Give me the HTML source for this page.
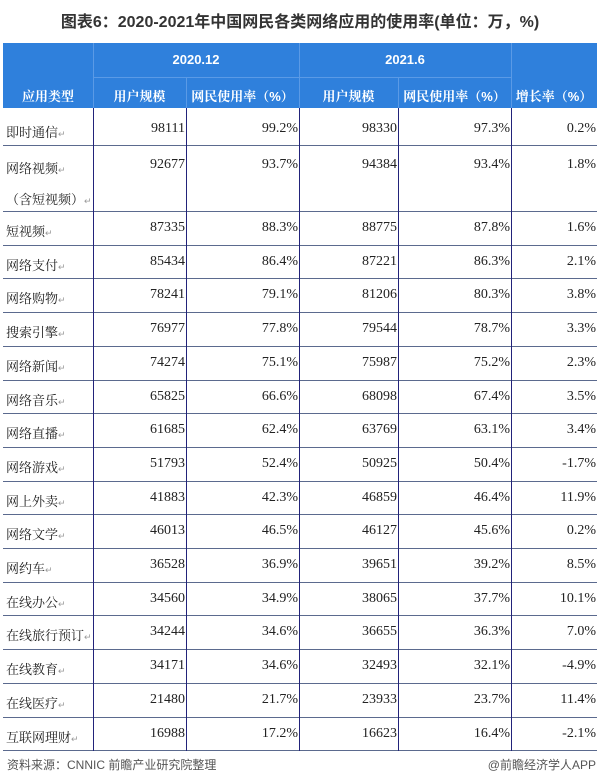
<!DOCTYPE html>
<html><head><meta charset="utf-8"><style>
body{margin:0;width:600px;height:783px;background:#fff;position:relative;overflow:hidden;font-family:"Liberation Serif","Noto Serif CJK SC",serif;}
.title{position:absolute;top:8px;left:0;width:600px;text-align:center;font:bold 16px "Liberation Sans","Noto Sans CJK SC",sans-serif;color:#333;}
.hdr{position:absolute;left:3px;top:43px;width:594px;height:65px;background:#2f80dc;}
.cell{position:absolute;font-size:14px;color:#222;white-space:nowrap;}
.lab{font-size:13px;}
.h{color:#fff;font-weight:bold;font-size:13px;font-family:"Liberation Sans","Noto Serif CJK SC",sans-serif;text-align:center;}
.vl{position:absolute;width:1px;background:#22237a;}
.hl{position:absolute;left:3px;width:594px;height:1px;background:#5b6a8e;}
.foot{position:absolute;top:756px;font:12px "Liberation Sans","Noto Sans CJK SC",sans-serif;color:#555;}
</style></head><body>
<div class="title">图表6：2020-2021年中国网民各类网络应用的使用率(单位：万，%)</div>
<div class="hdr"></div>
<div id="t"></div>
<div class="foot" style="left:7px">资料来源：CNNIC 前瞻产业研究院整理</div>
<div class="foot" style="right:4px">@前瞻经济学人APP</div>
<script>
var X=[3,93,186,299,398,511,597];
var rows=[["即时通信",98111,"99.2%",98330,"97.3%","0.2%"],["网络视频",92677,"93.7%",94384,"93.4%","1.8%"],["短视频",87335,"88.3%",88775,"87.8%","1.6%"],["网络支付",85434,"86.4%",87221,"86.3%","2.1%"],["网络购物",78241,"79.1%",81206,"80.3%","3.8%"],["搜索引擎",76977,"77.8%",79544,"78.7%","3.3%"],["网络新闻",74274,"75.1%",75987,"75.2%","2.3%"],["网络音乐",65825,"66.6%",68098,"67.4%","3.5%"],["网络直播",61685,"62.4%",63769,"63.1%","3.4%"],["网络游戏",51793,"52.4%",50925,"50.4%","-1.7%"],["网上外卖",41883,"42.3%",46859,"46.4%","11.9%"],["网络文学",46013,"46.5%",46127,"45.6%","0.2%"],["网约车",36528,"36.9%",39651,"39.2%","8.5%"],["在线办公",34560,"34.9%",38065,"37.7%","10.1%"],["在线旅行预订",34244,"34.6%",36655,"36.3%","7.0%"],["在线教育",34171,"34.6%",32493,"32.1%","-4.9%"],["在线医疗",21480,"21.7%",23933,"23.7%","11.4%"],["互联网理财",16988,"17.2%",16623,"16.4%","-2.1%"]];
var h='';
function c(x,y,w,txt,cls,al){h+='<div class="cell '+(cls||'')+'" style="left:'+x+'px;top:'+y+'px;width:'+w+'px;text-align:'+(al||'right')+'">'+txt+'</div>';}
c(93,52,206,'2020.12','h','center');c(299,52,212,'2021.6','h','center');
var hd=['应用类型','用户规模','网民使用率（%）','用户规模','网民使用率（%）','增长率（%）'];
for(var i=0;i<6;i++)c(X[i],86,X[i+1]-X[i],hd[i],'h','center');
[93,299,511].forEach(function(x){h+='<div class="vl" style="left:'+x+'px;top:43px;height:65px;background:#5a9ae6"></div>';});
[186,398].forEach(function(x){h+='<div class="vl" style="left:'+x+'px;top:77px;height:31px;background:#5a9ae6"></div>';});
h+='<div style="position:absolute;left:93px;top:77px;width:418px;height:1px;background:#5a9ae6"></div>';
var tops=[108,145,211];for(var k=3;k<=18;k++)tops.push(211+(k-2)*33.7);
for(var r=0;r<18;r++){var y=tops[r],ty=y+(r==1?12:(r==0?13:9));var row=rows[r];
 c(6,ty+1,90,row[0]+'<span style="font-size:9px;color:#999">↵</span>','lab', 'left');
 if(r==1)c(6,ty+32,100,'（含短视频）<span style="font-size:9px;color:#999">↵</span>','lab','left');
 for(var j=1;j<6;j++)c(X[j],ty,X[j+1]-X[j]-1,row[j]);
 h+='<div class="hl" style="top:'+Math.round(tops[r+1])+'px"></div>';}
for(var i=1;i<6;i++)h+='<div class="vl" style="left:'+X[i]+'px;top:108px;height:643px"></div>';
document.getElementById('t').innerHTML=h;
</script>
</body></html>
